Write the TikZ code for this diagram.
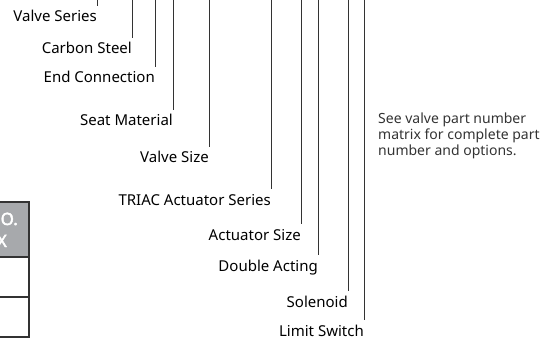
\documentclass[tikz,border=0pt]{standalone}
\usepackage{fontspec}
\setmainfont{Noto Sans}
\newfontfamily\hdrfont[FakeBold=2.5]{Noto Sans}
\definecolor{hdrgray}{HTML}{A7A9AC}
\tikzset{
  callout/.style={anchor=base east, inner xsep=0pt, inner ysep=6pt,
    text height=10pt, text depth=3pt, text=black,
    font=\fontsize{15}{17}\selectfont},
  leader/.style={draw=black!80, line width=1pt},
  note/.style={anchor=north west, inner sep=0pt, align=left, text=black!80,
    font=\fontsize{14}{16}\selectfont},
  hdr/.style={anchor=base east, inner sep=0pt, text=white,
    font=\hdrfont\fontsize{17}{19}\selectfont}
}

\begin{document}
\begin{tikzpicture}[x=1pt,y=-1pt]
\useasboundingbox (0,0) rectangle (556,339);
\clip (0,0) rectangle (556,339);
% part number table, cut off at the left edge
\fill[hdrgray] (-5,202) rectangle (29,257);
\draw[black!80, line width=1.3pt] (-5,202) -- (29,202) -- (29,337) -- (-5,337);
\draw[black!80, line width=1.3pt] (-5,257) -- (29,257);
\draw[black!80, line width=1.3pt] (-5,297) -- (29,297);
\node[hdr] (hdrA) at (18,225) {O.};
\node[hdr] (hdrB) at (7,247) {X};
% labels
\node[callout] (series) at (97,22) {Valve Series};
\node[callout] (steel) at (132,54) {Carbon Steel};
\node[callout] (endcon) at (155,83) {End Connection};
\node[callout] (seat) at (173,126) {Seat Material};
\node[callout] (vsize) at (209,163) {Valve Size};
\node[callout] (triac) at (271,205) {TRIAC Actuator Series};
\node[callout] (asize) at (301,240) {Actuator Size};
\node[callout] (dbl) at (318,271) {Double Acting};
\node[callout] (sol) at (348,307) {Solenoid};
\node[callout] (limit) at (364,336) {Limit Switch};
% leader lines from the part number above
\coordinate (t1) at (97,-2);
\coordinate (t2) at (132,-2);
\coordinate (t3) at (155,-2);
\coordinate (t4) at (173,-2);
\coordinate (t5) at (209,-2);
\coordinate (t6) at (271,-2);
\coordinate (t7) at (301,-2);
\coordinate (t8) at (318,-2);
\coordinate (t9) at (348,-2);
\coordinate (t10) at (364,-2);
\draw[leader] (t1) -- (series.north east);
\draw[leader] (t2) -- (steel.north east);
\draw[leader] (t3) -- (endcon.north east);
\draw[leader] (t4) -- (seat.north east);
\draw[leader] (t5) -- (vsize.north east);
\draw[leader] (t6) -- (triac.north east);
\draw[leader] (t7) -- (asize.north east);
\draw[leader] (t8) -- (dbl.north east);
\draw[leader] (t9) -- (sol.north east);
\draw[leader] (t10) -- (limit.north east);
\node[note] (info) at (378,113) {See valve part number\\matrix for complete part\\number and options.};
\end{tikzpicture}
\end{document}
